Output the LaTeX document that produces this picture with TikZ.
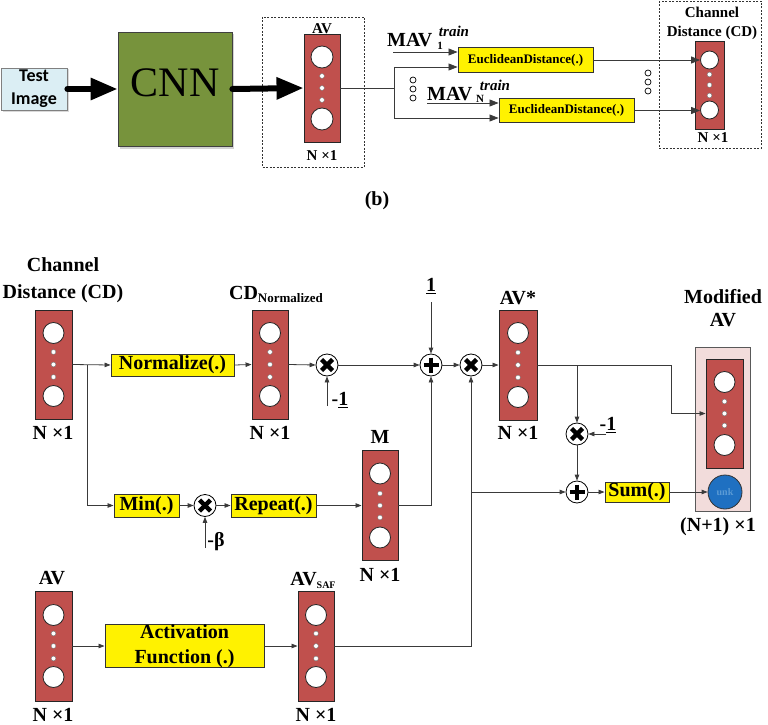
\documentclass[tikz,border=0pt]{standalone}
\usepackage{fontspec}
\setmainfont{Liberation Serif}
\newfontfamily\calibri{Carlito}
\usetikzlibrary{arrows.meta,shadows,calc}
\definecolor{vecred}{HTML}{C0504D}
\definecolor{cnngreen}{HTML}{77933C}
\definecolor{testblue}{HTML}{DBEEF4}
\definecolor{pinkbg}{HTML}{F2DCDB}
\definecolor{unkblue}{HTML}{1F70C1}
\definecolor{unktext}{HTML}{5B9BD5}
\definecolor{linegray}{HTML}{3A3A3A}
\newcommand\fsz[2]{\fontsize{#1pt}{#2pt}\selectfont\bfseries}
\tikzset{
  lbl/.style={font=\fsz{20}{27}, align=center, inner sep=0pt},
  lbls/.style={font=\fsz{15}{19}, align=center, inner sep=0pt},
  vecbox/.style={draw=black!85, fill=vecred, line width=0.9pt, inner sep=0pt},
  vcirc/.style={circle, draw=black!85, fill=white, line width=0.8pt, inner sep=0pt},
  vdot/.style={fill=white, draw=black!55, line width=0.4pt},
  ybox/.style={draw=black!80, fill=yellow, line width=0.9pt, inner sep=0pt, font=\fsz{20}{25}, align=center},
  yboxs/.style={draw=black!80, fill=yellow, line width=0.9pt, inner sep=0pt, font=\fsz{13}{15}, minimum width=135pt, minimum height=24.5pt},
  op/.style={circle, draw=black, fill=white, line width=0.8pt, minimum size=22pt, inner sep=0pt},
  opmul/.style={op, path picture={
      \draw[line width=4.3pt] ([shift={(-5.5,-5.5)}]path picture bounding box.center) -- ([shift={(5.5,5.5)}]path picture bounding box.center);
      \draw[line width=4.3pt] ([shift={(-5.5,5.5)}]path picture bounding box.center) -- ([shift={(5.5,-5.5)}]path picture bounding box.center);}},
  opadd/.style={op, path picture={
      \draw[line width=4pt] ([shift={(-7.5,0)}]path picture bounding box.center) -- ([shift={(7.5,0)}]path picture bounding box.center);
      \draw[line width=4pt] ([shift={(0,-7.5)}]path picture bounding box.center) -- ([shift={(0,7.5)}]path picture bounding box.center);}},
  conn/.style={draw=linegray, line width=0.8pt},
  arr/.style={conn, -{Triangle[length=6pt,width=4.5pt]}},
  arrbig/.style={conn, -{Triangle[length=9pt,width=7pt]}},
  fat/.style={line width=6pt, line cap=round, draw=black, -{Triangle[length=27pt,width=21pt]}},
  dashbox/.style={draw=black!80, dash pattern=on 2pt off 1.5pt, line width=0.8pt},
  testbox/.style={draw=black!50, fill=testblue, line width=0.8pt, minimum width=66pt, minimum height=42pt, inner sep=0pt,
      font=\calibri\bfseries\fontsize{18pt}{23pt}\selectfont, align=center, drop shadow={shadow xshift=1.5pt, shadow yshift=-1.5pt, opacity=0.3}},
  cnnbox/.style={draw=black!75, fill=cnngreen, line width=0.8pt, minimum width=114pt, minimum height=114pt, inner sep=0pt,
      font=\fontsize{42pt}{42pt}\selectfont, text depth=12pt, drop shadow={shadow xshift=2pt, shadow yshift=-2.5pt, opacity=0.35}},
  pinkbox/.style={draw=black!65, fill=pinkbg, line width=0.9pt, inner sep=0pt},
  unkc/.style={circle, draw=black!80, fill=unkblue, line width=0.8pt, minimum size=34pt, inner sep=0pt,
      font=\fsz{10}{10}, text=unktext},
}
% #1 name, #2 cx, #3 cy, #4 w, #5 h, #6 r, #7 offset, #8 dot gap
\newcommand\featvec[8]{%
  \node[vecbox, minimum width=#4pt, minimum height=#5pt] (#1) at (#2,#3) {};
  \node[vcirc, minimum size=#6pt*2] (#1-t) at (#2,{#3-#5/2+#7}) {};
  \node[vcirc, minimum size=#6pt*2] (#1-b) at (#2,{#3+#5/2-#7}) {};
  \foreach \d in {-1,0,1} \draw[vdot] (#2,{#3+\d*#8}) circle (2.4);
}
\begin{document}
\begin{tikzpicture}[x=1pt,y=-1pt]
\useasboundingbox (0,0) rectangle (768,725);

% ---------------- top part ----------------
\node[testbox] (test) at (34,89) {Test\\Image};
\node[cnnbox] (cnn) at (175,89) {CNN};
\draw[dashbox] (262,17) rectangle (364,167);
\featvec{tav}{322}{88}{36}{108}{11}{23}{12}
\node[lbls] (tavl) at (322,29) {AV};
\node[lbls] (tavn) at (322,156) {N ×1};
\draw[fat] (test.east) -- (cnn.west);
\draw[fat] (cnn.east) -- (tav.west);

\coordinate (sp1) at (394,67);
\coordinate (sp2) at (394,118);
\node[yboxs] (ed1) at (525.5,60) {EuclideanDistance(.)};
\node[yboxs] (ed2) at (566.5,110.5) {EuclideanDistance(.)};
\draw[conn] (tav.east) -- (tav.east -| sp1);
\draw[conn] (sp1) -- (sp2);
\draw[arrbig] (sp1) -- (sp1 -| ed1.west);
\draw[arrbig] (sp2) -- (sp2 -| ed2.west);
\coordinate (m1) at (393,52);
\coordinate (mN) at (427,103);
\draw[arrbig] (m1) -- (m1 -| ed1.west);
\draw[arrbig] (mN) -- (mN -| ed2.west);
\node[font=\fsz{20}{20}, anchor=base west, inner sep=0pt] (mav1) at (387,47) {MAV};
\node[font=\fsz{11}{11}, anchor=base, inner sep=0pt] (mav1s) at (440,49) {1};
\node[font=\fsz{15}{15}\itshape, anchor=base, inner sep=0pt] (mav1t) at (454,37) {train};
\node[font=\fsz{20}{20}, anchor=base west, inner sep=0pt] (mavN) at (427,100) {MAV};
\node[font=\fsz{11}{11}, anchor=base, inner sep=0pt] (mavNs) at (480,102) {N};
\node[font=\fsz{15}{15}\itshape, anchor=base, inner sep=0pt] (mavNt) at (495,90) {train};
\foreach \yy in {80,89,98} \draw[black, line width=0.7pt, fill=white] (413,\yy) circle (3);
\foreach \yy in {73,82,91} \draw[black, line width=0.7pt, fill=white] (648,\yy) circle (3);

\draw[dashbox] (659,1) rectangle (761,148);
\featvec{tcd}{709.5}{85}{29}{88}{9}{19}{10.5}
\node[lbls] (tcdl) at (712,23) {Channel\\Distance (CD)};
\node[lbls] (tcdn) at (713,137.5) {N ×1};
\draw[arrbig] (ed1.east) -- (tcd-t.west);
\draw[arrbig] (ed2.east) -- (ed2.east -| tcd-b.west);
\node[font=\fsz{20}{20}, inner sep=0pt] (cap) at (377,201) {(b)};

% ---------------- bottom part ----------------
\featvec{cd}{53.5}{364.5}{37}{109}{10.5}{23}{12.5}
\node[lbl] (cdl) at (63,280) {Channel\\Distance (CD)};
\node[lbl] (cdn) at (53,433) {N ×1};
\node[ybox, minimum width=123pt, minimum height=22pt] (norm) at (172.5,365) {Normalize(.)};
\featvec{cdn}{270}{364.5}{36}{109}{10.5}{23}{12.5}
\node[lbl] (cdnl) at (276,294) {CD{\fontsize{13pt}{13pt}\selectfont\raisebox{-3pt}{Normalized}}};
\node[lbl] (cdnn) at (270,433) {N ×1};
\node[opmul] (mul1) at (327,365) {};
\node[lbl] (m1l) at (340,400) {-\underline{1}};
\coordinate (c1) at (327,406);
\node[opadd] (add1) at (431,365) {};
\node[lbl] (onel) at (431,286) {\underline{1}};
\coordinate (c2) at (431,302);
\node[opmul] (mul2) at (471,365) {};
\featvec{avs}{518}{365}{38}{110}{10.5}{23}{12.5}
\node[lbl] (avsl) at (518,298) {AV*};
\node[lbl] (avsn) at (518,433) {N ×1};

\node[lbl] (modl) at (723,308) {Modified\\[-4pt]AV};
\node[pinkbox, minimum width=55pt, minimum height=164pt] (mod) at (722.5,429) {};
\featvec{inner}{724.5}{413.5}{37}{109}{10.5}{23}{12}
\node[unkc] (unk) at (725,492) {unk};
\node[lbl] (modn) at (718,527) {(N+1) ×1};
\node[opmul] (mul3) at (577,434) {};
\node[lbl] (m3l) at (608,425) {-\underline{1}};
\coordinate (c3) at (606,434);
\node[opadd] (add2) at (577,492) {};
\node[ybox, minimum width=64pt, minimum height=20pt] (sum) at (637,492) {Sum(.)};

\coordinate (b1) at (87,365);
\node[ybox, minimum width=65pt, minimum height=23pt] (min) at (146.5,505.5) {Min(.)};
\node[opmul] (mul4) at (205,505.5) {};
\node[lbl] (betal) at (216,542) {-β};
\coordinate (cb) at (205,548);
\node[ybox, minimum width=85pt, minimum height=23pt] (rep) at (273.5,505.5) {Repeat(.)};
\featvec{M}{380}{505.5}{36}{110}{10.5}{23}{12}
\node[lbl] (Ml) at (380,437) {M};
\node[lbl] (Mn) at (380,575) {N ×1};

\featvec{av}{53.5}{646}{37}{110}{10.5}{24}{12.5}
\node[lbl] (avl) at (52,578) {AV};
\node[lbl] (avn) at (53,715) {N ×1};
\node[ybox, minimum width=159pt, minimum height=42pt] (act) at (184.5,646) {Activation\\Function (.)};
\featvec{avf}{316}{646}{36}{110}{10.5}{24}{12.5}
\node[lbl] (avfl) at (313,580) {AV{\fontsize{10pt}{10pt}\selectfont\raisebox{-3pt}{SAF}}};
\node[lbl] (avfn) at (316,715) {N ×1};

% connectors
\draw[arr] (cd.east) -- (norm.west);
\draw[arr] (b1) |- (min.west);
\draw[arr] (norm.east) -- (cdn.west);
\draw[arr] (cdn.east) -- (mul1.west);
\draw[arr] (c1) -- (mul1.south);
\draw[arr] (mul1.east) -- (add1.west);
\draw[arr] (c2) -- (add1.north);
\draw[arr] (add1.east) -- (mul2.west);
\draw[arr] (mul2.east) -- (avs.west);
\coordinate (b3) at (577,365);
\coordinate (b4) at (671,365);
\draw[arr] (avs.east) -- (b4) |- (inner.west);
\draw[arr] (b3) -- (mul3.north);
\draw[arr] (c3) -- (mul3.east);
\draw[arr] (mul3.south) -- (add2.north);
\draw[arr] (add2.east) -- (sum.west);
\draw[arr] (sum.east) -- (unk.west);
\draw[arr] (min.east) -- (mul4.west);
\draw[arr] (cb) -- (mul4.south);
\draw[arr] (mul4.east) -- (rep.west);
\draw[arr] (rep.east) -- (M.west);
\draw[arr] (M.east) -| (add1.south);
\draw[arr] (av.east) -- (act.west);
\draw[arr] (act.east) -- (avf.west);
\draw[arr] (avf.east) -| (mul2.south);
\coordinate (b5) at (471,492);
\draw[arr] (b5) -- (add2.west);
\end{tikzpicture}
\end{document}
